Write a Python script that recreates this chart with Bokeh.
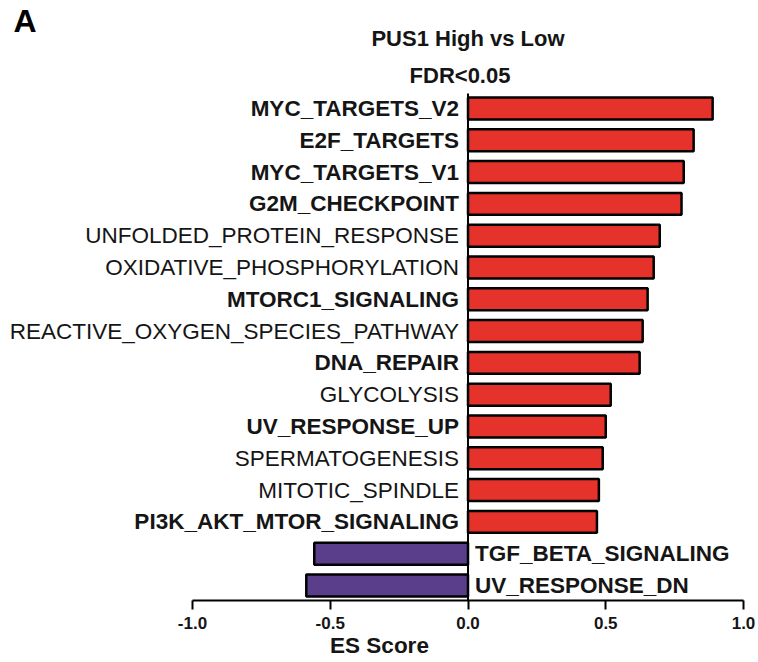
from bokeh.plotting import figure
from bokeh.models import Range1d, FixedTicker, ColumnDataSource, PrintfTickFormatter
from bokeh.core.properties import value
from bokeh.embed import file_html
from bokeh.resources import INLINE

# ---- data ----
pathways = [
    "MYC_TARGETS_V2", "E2F_TARGETS", "MYC_TARGETS_V1", "G2M_CHECKPOINT",
    "UNFOLDED_PROTEIN_RESPONSE", "OXIDATIVE_PHOSPHORYLATION", "MTORC1_SIGNALING",
    "REACTIVE_OXYGEN_SPECIES_PATHWAY", "DNA_REPAIR", "GLYCOLYSIS",
    "UV_RESPONSE_UP", "SPERMATOGENESIS", "MITOTIC_SPINDLE",
    "PI3K_AKT_MTOR_SIGNALING", "TGF_BETA_SIGNALING", "UV_RESPONSE_DN",
]
es_scores = [0.888, 0.819, 0.783, 0.775, 0.696, 0.674, 0.652, 0.634, 0.623,
             0.518, 0.500, 0.489, 0.475, 0.468, -0.558, -0.587]
bold_labels = [True, True, True, True, False, False, True, False, True, False,
               True, False, False, True, True, True]
x_ticks = [-1.0, -0.5, 0.0, 0.5, 1.0]
title_text = "PUS1 High vs Low"
subtitle_text = "FDR<0.05"
x_label = "ES Score"
panel_letter = "A"

RED = "#E5322A"
PURPLE = "#5A3E8C"
FONT = "Liberation Sans"
TXT = "#151515"

idx = list(range(len(pathways)))
colors = [RED if v >= 0 else PURPLE for v in es_scores]

p = figure(width=758, height=662, output_backend="svg", toolbar_location=None,
           x_range=Range1d(-1.6969, 1.0544), y_range=Range1d(15.472, -3.396),
           y_axis_location=None, min_border_left=0, min_border_right=0,
           min_border_top=0, min_border_bottom=62)
p.outline_line_color = None
p.grid.visible = False
p.background_fill_color = "white"
p.border_fill_color = "white"

src = ColumnDataSource(dict(y=idx, v=es_scores, c=colors))
p.hbar(y="y", left=0, right="v", height=0.69, fill_color="c",
       line_color="black", line_width=2.5, source=src)

# zero line
p.segment(x0=[0], y0=[-0.47], x1=[0], y1=[15.472], line_color="black", line_width=2)

# pathway labels
for positive, align, off in ((True, "right", -9), (False, "left", 7)):
    for b in (True, False):
        ys = [i for i, v, bb in zip(idx, es_scores, bold_labels)
              if (v >= 0) == positive and bb == b]
        if not ys:
            continue
        p.text(x=[0] * len(ys), y=ys, text=[pathways[i] for i in ys],
               text_align=align, text_baseline="middle", x_offset=off,
               text_font=value(FONT), text_font_size="22.5px",
               text_font_style="bold" if b else "normal", text_color=TXT)

# titles
p.text(x=[0], y=[-2.2], text=[title_text], text_align="center", text_baseline="middle",
       text_font=value(FONT), text_font_size="22px", text_font_style="bold",
       text_color=TXT)
p.text(x=[0], y=[-1.038], text=[subtitle_text], text_align="center", text_baseline="middle",
       x_offset=-8, text_font=value(FONT), text_font_size="22px", text_font_style="bold",
       text_color=TXT)
p.text(x=[-1.650], y=[-2.736], text=[panel_letter], text_align="left", text_baseline="middle",
       text_font=value(FONT), text_font_size="32px", text_font_style="bold",
       text_color="black")

ax = p.xaxis[0]
ax.bounds = (-1.0, 1.0)
ax.ticker = FixedTicker(ticks=x_ticks)
ax.formatter = PrintfTickFormatter(format="%.1f")
ax.axis_line_width = 2
ax.axis_line_color = "black"
ax.major_tick_line_width = 2
ax.major_tick_line_color = "black"
ax.major_tick_out = 9
ax.major_tick_in = 0
ax.minor_tick_line_color = None
ax.major_label_text_font = FONT
ax.major_label_text_font_size = "17px"
ax.major_label_text_font_style = "bold"
ax.major_label_text_color = TXT
ax.major_label_standoff = 7
ax.axis_label = x_label
ax.axis_label_text_font = FONT
ax.axis_label_text_font_size = "22.5px"
ax.axis_label_text_font_style = "bold"
ax.axis_label_text_color = TXT
ax.axis_label_standoff = 1

open("out.html", "w").write(file_html(p, INLINE))
